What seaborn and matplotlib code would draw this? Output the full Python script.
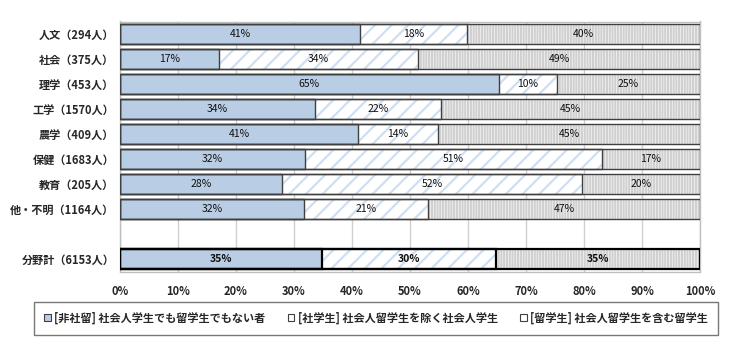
import matplotlib
matplotlib.use("Agg")
import matplotlib.pyplot as plt
from matplotlib.patches import Patch
import seaborn as sns
import pandas as pd
import numpy as np

sns.set_theme(style="white")
plt.rcParams['font.family'] = ['Noto Sans CJK JP', 'DejaVu Sans']
plt.rcParams['hatch.linewidth'] = 1.6

categories = ["人文（294人）", "社会（375人）", "理学（453人）", "工学（1570人）",
              "農学（409人）", "保健（1683人）", "教育（205人）", "他・不明（1164人）",
              "分野計（6153人）"]
blank = " "
order = categories[:8] + [blank] + categories[8:]

hisharyu = [41.4, 17.0, 65.3, 33.7, 41.0, 31.9, 27.9, 31.7, 34.8]
shagaku = [18.4, 34.4, 10.0, 21.7, 13.8, 51.2, 51.8, 21.4, 30.0]
ryugaku = [40.2, 48.6, 24.7, 44.6, 45.2, 16.9, 20.3, 46.9, 35.2]

series_names = ["[非社留] 社会人学生でも留学生でもない者",
                "[社学生] 社会人留学生を除く社会人学生",
                "[留学生] 社会人留学生を含む留学生"]
xticks = [0, 10, 20, 30, 40, 50, 60, 70, 80, 90, 100]

df = pd.DataFrame({"cat": categories, "a": hisharyu, "b": shagaku, "c": ryugaku})
df["cum1"] = df["a"]
df["cum2"] = df["a"] + df["b"]
df["cum3"] = df["a"] + df["b"] + df["c"]

fig = plt.figure(figsize=(7.37, 3.53), dpi=100)
ax = fig.add_axes([120 / 737, 1 - 271.5 / 353, 580 / 737, 250 / 353])

blue = "#b9cde5"
diag = "#cfdff2"
vert = "#d0d0d0"
edge = "#404040"

# fills (back to front)
sns.barplot(data=df, y="cat", x="cum3", order=order, orient="h", color="white",
            width=0.8, hatch="||||||", edgecolor=vert, linewidth=0, ax=ax, zorder=2)
sns.barplot(data=df, y="cat", x="cum2", order=order, orient="h", color="white",
            width=0.8, hatch="//", edgecolor=diag, linewidth=0, ax=ax, zorder=3)
sns.barplot(data=df, y="cat", x="cum1", order=order, orient="h", color=blue,
            width=0.8, linewidth=0, ax=ax, zorder=4, saturation=1)

# outlines
for col in ["cum3", "cum2", "cum1"]:
    n0 = len(ax.patches)
    sns.barplot(data=df, y="cat", x=col, order=order, orient="h", fill=False,
                width=0.8, edgecolor=edge, linewidth=1.0, ax=ax, zorder=5)
    new = ax.patches[n0:]
    for p in new:
        yc = p.get_y() + p.get_height() / 2
        if abs(yc - order.index(categories[-1])) < 0.1:
            p.set_edgecolor("black")
            p.set_linewidth(1.6)

# labels
for i, cat in enumerate(categories):
    y = order.index(cat)
    starts = [0, hisharyu[i], hisharyu[i] + shagaku[i]]
    vals = [hisharyu[i], shagaku[i], ryugaku[i]]
    w = "bold" if i == len(categories) - 1 else "normal"
    for s, v in zip(starts, vals):
        ax.text(s + v / 2, y, f"{v:.0f}%", ha="center", va="center",
                fontsize=7.5, fontweight=w, color="#111111", zorder=6)

ax.set_xlim(0, 100)
ax.set_ylim(len(order) - 0.5, -0.5)
ax.set_xticks(xticks)
ax.set_xticklabels([f"{t}%" for t in xticks], fontsize=8, fontweight="bold")
ax.tick_params(axis="x", length=0, pad=10)
ax.tick_params(axis="y", length=0, pad=4)
for lab in ax.get_yticklabels():
    lab.set_fontsize(8)
    lab.set_fontweight("bold")
ax.set_xlabel("")
ax.set_ylabel("")
ax.grid(axis="x", color="#d0d0d0", linewidth=1.0, zorder=0)
ax.set_axisbelow(True)
for s in ax.spines.values():
    s.set_color("#bfbfbf")
    s.set_linewidth(1.0)

handles = [
    Patch(facecolor=blue, edgecolor=edge, linewidth=0.8),
    Patch(facecolor="white", edgecolor=edge, linewidth=0.8),
    Patch(facecolor="white", edgecolor=edge, linewidth=0.8),
]
leg = fig.legend(handles, series_names, loc="center", bbox_to_anchor=(376 / 737, 1 - 318 / 353),
                 ncol=3, frameon=True, fancybox=False, edgecolor="#555555",
                 fontsize=8, handlelength=0.6, handleheight=0.6, handletextpad=0.3,
                 columnspacing=2.0, borderpad=0.9, borderaxespad=0)
leg.get_frame().set_linewidth(1.0)
for t in leg.get_texts():
    t.set_fontweight("bold")

fig.savefig("out.png", dpi=100)
